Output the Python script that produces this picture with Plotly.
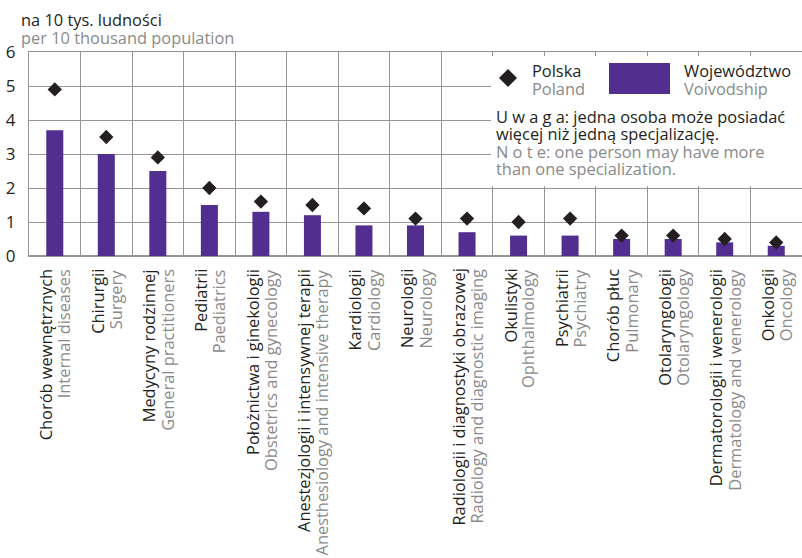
import plotly.graph_objects as go

categories_pl = ["Chorób wewnętrznych", "Chirurgii", "Medycyny rodzinnej", "Pediatrii",
                 "Położnictwa i ginekologii", "Anestezjologii i intensywnej terapii",
                 "Kardiologii", "Neurologii", "Radiologii i diagnostyki obrazowej",
                 "Okulistyki", "Psychiatrii", "Chorób płuc", "Otolaryngologii",
                 "Dermatorologii i wenerologii", "Onkologii"]
categories_en = ["Internal diseases", "Surgery", "General practitioners", "Paediatrics",
                 "Obstetrics and gynecology", "Anesthesiology and intensive therapy",
                 "Cardiology", "Neurology", "Radiology and diagnostic imaging",
                 "Ophthalmology", "Psychiatry", "Pulmonary", "Otolaryngology",
                 "Dermatology and venerology", "Oncology"]
voivodship = [3.7, 3.0, 2.5, 1.5, 1.3, 1.2, 0.9, 0.9, 0.7, 0.6, 0.6, 0.5, 0.5, 0.4, 0.3]
poland = [4.9, 3.5, 2.9, 2.0, 1.6, 1.5, 1.4, 1.1, 1.1, 1.0, 1.1, 0.6, 0.6, 0.5, 0.4]
y_ticks = [0, 1, 2, 3, 4, 5, 6]

PURPLE = "#522e91"
BLACK = "#231f20"
GRAY = "#8a8a8a"
GRID = "#959595"
FONT = "Open Sans"
FS = 16.4

W, H = 802, 558
L, R, T, B = 29, 0, 52, 302
pw, ph = W - L - R, H - T - B


def px(x):
    return (x - L) / pw


def py(y):
    return (H - B - y) / ph


fig = go.Figure()
fig.add_trace(go.Bar(x=categories_pl, y=voivodship, marker=dict(color=PURPLE, line_width=0),
                     name="Województwo", showlegend=False))
fig.add_trace(go.Scatter(x=categories_pl, y=poland, mode="markers",
                         marker=dict(symbol="diamond", size=11, color=BLACK),
                         name="Polska", showlegend=False))

shapes = [
    dict(type="rect", xref="paper", yref="paper", x0=px(491), x1=px(803), y0=py(186), y1=py(56),
         fillcolor="white", line_width=0, layer="above"),
    dict(type="rect", xref="paper", yref="paper", x0=px(609), x1=px(670), y0=py(94), y1=py(63),
         fillcolor=PURPLE, line_width=0, layer="above"),
    dict(type="path", xref="paper", yref="paper",
         path=f"M {px(499)} {py(78)} L {px(508)} {py(69)} L {px(517)} {py(78)} L {px(508)} {py(87)} Z",
         fillcolor=BLACK, line_width=0, layer="above"),
]

ann = []


def block(x, y, lines, spacing):
    """One multi-line text; base font sets the line spacing, spans set the glyph size."""
    parts = [f"<span style='font-size:{FS}px;color:{c}'>{s}</span>" for s, c in lines]
    ann.append(dict(xref="paper", yref="paper", x=px(x), y=py(y), text="<br>".join(parts),
                    showarrow=False, xanchor="left", yanchor="middle", align="left",
                    font=dict(color=BLACK, size=spacing / 1.3, family=FONT)))


block(19, 29, [("na 10 tys. ludności", BLACK), ("per 10 thousand population", GRAY)], 18)
block(530, 79, [("Polska", BLACK), ("Poland", GRAY)], 18)
block(682, 79, [("Województwo", BLACK), ("Voivodship", GRAY)], 18)
block(494, 142, [("U w a g a: jedna osoba może posiadać", BLACK),
                 ("więcej niż jedną specjalizację.", BLACK),
                 ("N o t e: one person may have more", GRAY),
                 ("than one specialization.", GRAY)], 17.3)

# category labels (two rotated lines, Polish and English)
for pl, en in zip(categories_pl, categories_en):
    for s, col, dx in ((pl, BLACK, -9), (en, GRAY, 9)):
        ann.append(dict(xref="x", yref="paper", x=pl, y=0, text=s, showarrow=False,
                        textangle=-90, xanchor="center", yanchor="top", xshift=dx, yshift=-11,
                        font=dict(color=col, size=FS, family=FONT)))

fig.update_layout(
    width=W, height=H, margin=dict(l=L, r=R, t=T, b=B),
    paper_bgcolor="white", plot_bgcolor="white",
    bargap=0.67, shapes=shapes, annotations=ann,
    font=dict(family=FONT, size=FS, color=BLACK),
    xaxis=dict(type="category", tickson="boundaries", tickmode="array",
               tickvals=categories_pl, showticklabels=False,
               showgrid=True, gridcolor=GRID, gridwidth=1, ticks="",
               showline=True, linecolor=GRID, mirror=True,
               range=[-0.5, 14.5]),
    yaxis=dict(range=[0, 6], tickvals=y_ticks, showgrid=True, gridcolor=GRID, gridwidth=1,
               zeroline=True, zerolinecolor=GRID, showline=True, linecolor=GRID,
               ticks="", tickfont=dict(size=17, color=BLACK, family=FONT), ticklabelstandoff=9),
)

fig.write_html("out.html", config={"displayModeBar": False},
               post_script="document.body.style.margin='0px';")
